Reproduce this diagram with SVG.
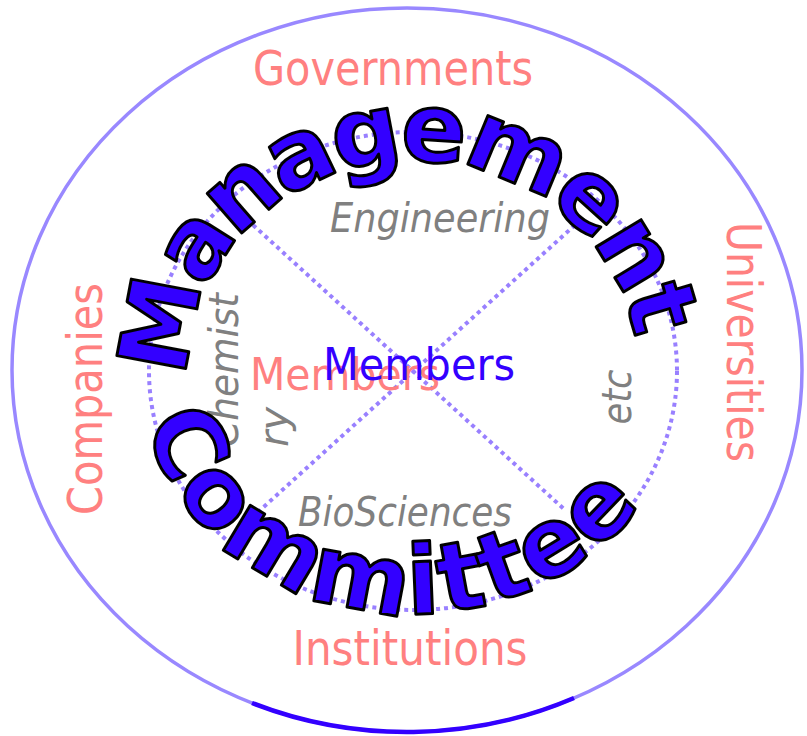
<svg xmlns="http://www.w3.org/2000/svg" width="807" height="736" viewBox="0 0 807 736">
<style>
.lbl{font-family:"DejaVu Sans","Liberation Sans",sans-serif;fill:#ff8080;font-size:48px}
.sub{font-family:"DejaVu Sans","Liberation Sans",sans-serif;fill:#808080;font-size:40px;font-style:italic}
.mem{font-family:"DejaVu Sans","Liberation Sans",sans-serif;font-size:45px}
.art{font-family:"DejaVu Sans","Liberation Sans",sans-serif;font-weight:bold;font-size:96px;fill:#3300ff;stroke:#000;stroke-width:3;stroke-linejoin:round}
.dot{fill:none;stroke:#9980ff;stroke-width:4;stroke-dasharray:4 4}
</style>
<defs>
<path id="arcTop" d="M 202.5 440.1 A 224 208 0 1 1 623.5 440.1"/>
<path id="arcBottom" d="M 155.5 285.2 A 274 245 0 1 0 670.5 285.2"/>
</defs>
<rect width="807" height="736" fill="#fff"/>
<g id="outer">
<ellipse cx="407" cy="370" rx="395" ry="362" fill="none" stroke="#9988ff" stroke-width="3.5"/>
<path d="M 252 703 A 395 362 0 0 0 574 698" fill="none" stroke="#3300ff" stroke-width="4.5"/>
</g>
<g id="inner">
<ellipse class="dot" cx="413" cy="371" rx="264" ry="239"/>
</g>
<g id="connectors">
<line class="dot" x1="253" y1="225" x2="565" y2="510"/>
<line class="dot" x1="575" y1="225" x2="257" y2="513"/>
</g>
<g id="governments"><text class="lbl" x="393" y="85" text-anchor="middle" textLength="280" lengthAdjust="spacingAndGlyphs">Governments</text></g>
<g id="universities"><text class="lbl" transform="translate(727,342) rotate(90)" text-anchor="middle" textLength="240" lengthAdjust="spacingAndGlyphs">Universities</text></g>
<g id="companies"><text class="lbl" transform="translate(102,399) rotate(-90)" text-anchor="middle" textLength="232" lengthAdjust="spacingAndGlyphs">Companies</text></g>
<g id="institutions"><text class="lbl" x="410" y="665" text-anchor="middle" textLength="235" lengthAdjust="spacingAndGlyphs">Institutions</text></g>
<g id="engineering"><text class="sub" x="440" y="232" text-anchor="middle" textLength="220" lengthAdjust="spacingAndGlyphs">Engineering</text></g>
<g id="biosciences"><text class="sub" x="405" y="526" text-anchor="middle" font-size="38" textLength="214" lengthAdjust="spacingAndGlyphs">BioSciences</text></g>
<g id="etc"><text class="sub" transform="translate(631,397) rotate(-90)" text-anchor="middle" textLength="55" lengthAdjust="spacingAndGlyphs">etc</text></g>
<g id="chemistry"><text class="sub" transform="translate(238,447) rotate(-90)"><tspan x="0" y="0" textLength="154" lengthAdjust="spacingAndGlyphs">Chemist</tspan><tspan x="0" y="50">ry</tspan></text></g>
<g id="members-pink"><text class="mem" x="345" y="390" fill="#ff8080" text-anchor="middle" textLength="190" lengthAdjust="spacingAndGlyphs">Members</text></g>
<g id="members-blue"><text class="mem" x="419" y="380" fill="#3300ff" text-anchor="middle" textLength="192" lengthAdjust="spacingAndGlyphs">Members</text></g>
<g id="management"><text class="art" letter-spacing="-5.5"><textPath href="#arcTop" startOffset="64">Management</textPath></text></g>
<g id="committee"><text class="art" font-size="98" letter-spacing="3"><textPath href="#arcBottom" startOffset="140">Committee</textPath></text></g>
</svg>
